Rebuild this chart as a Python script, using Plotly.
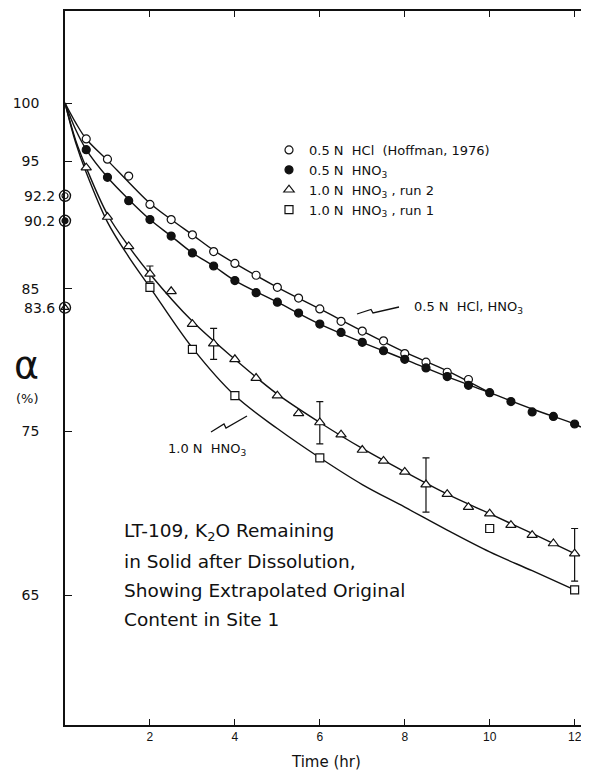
import math
import plotly.graph_objects as go

# ---------------- data ----------------
t_hcl = [0.5, 1.0, 1.5, 2.0, 2.5, 3.0, 3.5, 4.0, 4.5, 5.0, 5.5, 6.0, 6.5, 7.0, 7.5, 8.0, 8.5, 9.0, 9.5]
hcl_05 = [96.9, 95.2, 93.8, 91.5, 90.3, 89.1, 87.8, 86.9, 86.0, 85.1, 84.3, 83.5, 82.6, 81.9, 81.2, 80.3, 79.7, 79.0, 78.5]

t_hno3 = [0.5, 1.0, 1.5, 2.0, 2.5, 3.0, 3.5, 4.0, 4.5, 5.0, 5.5, 6.0, 6.5, 7.0, 7.5, 8.0,
          8.5, 9.0, 9.5, 10.0, 10.5, 11.0, 11.5, 12.0]
hno3_05 = [96.0, 93.7, 91.8, 90.3, 89.0, 87.7, 86.7, 85.6, 84.7, 84.0, 83.2, 82.4, 81.8, 81.1, 80.5, 79.9,
           79.3, 78.7, 78.1, 77.6, 77.0, 76.3, 76.0, 75.5]

t_run2 = [0.5, 1.0, 1.5, 2.0, 2.5, 3.0, 3.5, 4.0, 4.5, 5.0, 5.5, 6.0, 6.5, 7.0, 7.5, 8.0,
          8.5, 9.0, 9.5, 10.0, 10.5, 11.0, 11.5, 12.0]
hno3_10_run2 = [94.5, 90.5, 88.2, 86.1, 84.8, 82.4, 81.0, 79.9, 78.6, 77.4, 76.2, 75.6, 74.8, 73.8, 73.1, 72.4,
                71.6, 71.0, 70.2, 69.8, 69.1, 68.5, 68.0, 67.4]

t_run1 = [2.0, 3.0, 4.0, 6.0, 10.0, 12.0]
hno3_10_run1 = [85.1, 80.6, 77.4, 73.3, 68.9, 65.3]

err_t = [2.0, 3.5, 6.0, 8.5, 12.0]
err_mid = [86.1, 81.0, 75.6, 71.6, 67.4]
err_plus = [0.6, 1.1, 1.4, 1.7, 1.5]
err_minus = [0.6, 1.1, 1.4, 1.7, 1.6]

extrap_vals = [92.2, 90.2, 83.6]   # extrapolated original content (t = 0)

# fitted curves
fit_hcl_t = [0, 0.25, 0.5, 1, 1.5, 2, 2.5, 3, 3.5, 4, 5, 6, 7, 8, 9, 10]
fit_hcl = [100, 98.3, 96.9, 95.1, 93.3, 91.6, 90.3, 89.1, 87.9, 86.9, 85.1, 83.5, 81.9, 80.4, 79.1, 77.6]
fit_05_t = [0, 0.25, 0.5, 1, 1.5, 2, 2.5, 3, 3.5, 4, 5, 6, 7, 8, 9, 10, 11, 12, 12.15]
fit_05 = [100, 97.7, 96.0, 93.7, 91.9, 90.3, 89.0, 87.7, 86.7, 85.6, 84.0, 82.4, 81.1, 79.9, 78.7, 77.6, 76.5, 75.5, 75.3]
fit_run2_t = [0, 0.25, 0.5, 1, 1.5, 2, 3, 4, 5, 6, 7, 8, 9, 10, 11, 12]
fit_run2 = [100, 96.8, 94.5, 90.7, 88.2, 86.1, 82.6, 79.9, 77.5, 75.6, 73.9, 72.4, 71.0, 69.8, 68.6, 67.4]
fit_run1_t = [0, 0.25, 0.5, 1, 1.5, 2, 3, 4, 5, 6, 7, 8, 9, 10, 11, 12]
fit_run1 = [100, 96.6, 94.1, 90.1, 87.4, 85.1, 80.7, 77.4, 75.2, 73.3, 71.6, 70.2, 68.8, 67.5, 66.4, 65.3]

x_ticks = [2, 4, 6, 8, 10, 12]
y_ticks = [100, 95, 85, 75, 65]

legend_names = [
    "0.5\u00a0N\u00a0\u00a0HCl\u00a0\u00a0(Hoffman,\u00a01976)",
    "0.5\u00a0N\u00a0\u00a0HNO<sub>3</sub>",
    "1.0\u00a0N\u00a0\u00a0HNO<sub>3</sub>\u00a0,\u00a0run\u00a02",
    "1.0\u00a0N\u00a0\u00a0HNO<sub>3</sub>\u00a0,\u00a0run\u00a01",
]

# ---------------- layout geometry ----------------
PAGE_OFF = 8                 # default body margin of the html page
W, H = 589 - 2 * PAGE_OFF, 779 - 2 * PAGE_OFF   # no page overflow -> no scrollbars
PL, PR, PT, PB = 65, 589 - PAGE_OFF, 11, 725      # plot area in page pixels
ML, MT = PL - PAGE_OFF, PT - PAGE_OFF
MR = (PAGE_OFF + W) - PR
MB = (PAGE_OFF + H) - PB
PW, PH = PR - PL, PB - PT
X_RANGE = [0, 12.15]
Y_RANGE = [1.7635, 2.03498]


def P(px, py):
    """page pixel -> paper fraction"""
    return (px - PL) / PW, (PB - py) / PH


FONT = "DejaVu Sans, Liberation Sans, Arial"
BLACK = "#111111"

fig = go.Figure()

line_style = dict(color=BLACK, width=1.4, shape="spline")
for tx, vy in [(fit_hcl_t, fit_hcl), (fit_05_t, fit_05), (fit_run2_t, fit_run2), (fit_run1_t, fit_run1)]:
    fig.add_trace(go.Scatter(x=tx, y=vy, mode="lines", line=line_style,
                             showlegend=False, hoverinfo="skip", cliponaxis=False))

# error bars
fig.add_trace(go.Scatter(
    x=err_t, y=err_mid, mode="markers", marker=dict(size=1, color="rgba(0,0,0,0)"),
    error_y=dict(type="data", array=err_plus, arrayminus=err_minus, color=BLACK,
                 thickness=1.2, width=3.5),
    showlegend=False, hoverinfo="skip", cliponaxis=False))

mk_line = dict(color=BLACK, width=1.2)
series = [
    (t_hcl, hcl_05, dict(symbol="circle", size=8, color="white", line=mk_line)),
    (t_hno3, hno3_05, dict(symbol="circle", size=8, color=BLACK, line=mk_line)),
    (t_run2, hno3_10_run2, dict(symbol="triangle-up", size=9, color="white", line=mk_line)),
    (t_run1, hno3_10_run1, dict(symbol="square", size=8, color="white", line=mk_line)),
]
for i, ((tx, vy, mk), name) in enumerate(zip(series, legend_names)):
    fig.add_trace(go.Scatter(x=tx, y=vy, mode="markers", marker=mk, name=name,
                             legendgroup=f"g{i}", cliponaxis=False))

# extrapolated values on the y axis
ext_x = [0] * len(extrap_vals)
fig.add_trace(go.Scatter(x=ext_x, y=extrap_vals, mode="markers",
                         marker=dict(symbol="circle", size=11, color="white", line=dict(color=BLACK, width=1.4)),
                         showlegend=False, hoverinfo="skip", cliponaxis=False))
fig.add_trace(go.Scatter(x=ext_x[:2], y=extrap_vals[:2], mode="markers",
                         marker=dict(symbol="circle", size=6,
                                     color=["white", BLACK], line=dict(color=BLACK, width=1.2)),
                         showlegend=False, hoverinfo="skip", cliponaxis=False))
fig.add_trace(go.Scatter(x=ext_x[2:], y=extrap_vals[2:], mode="markers",
                         marker=dict(symbol="triangle-up-open", size=7, color=BLACK, line=dict(color=BLACK, width=1.2)),
                         showlegend=False, hoverinfo="skip", cliponaxis=False))

annotations = []
for v in extrap_vals:
    annotations.append(dict(x=P(57, 0)[0], xref="paper", y=math.log10(v), yref="y",
                            text=f"{v}", showarrow=False, xanchor="right", yanchor="middle",
                            font=dict(family=FONT, size=14, color=BLACK)))


def text_at(px, py, text, size, anchor="left", family=FONT):
    x, y = P(px, py)
    annotations.append(dict(x=x, y=y, xref="paper", yref="paper", text=text, showarrow=False,
                            xanchor=anchor, yanchor="middle",
                            font=dict(family=family, size=size, color=BLACK)))


text_at(26, 365, "α", 38, "center")
text_at(27, 398, "(%)", 13, "center")
text_at(326, 762, "Time\u00a0(hr)", 15, "center")
text_at(412, 307, "0.5\u00a0N\u00a0\u00a0HCl,\u00a0HNO<sub>3</sub>", 13)
text_at(166, 449, "1.0\u00a0N\u00a0\u00a0HNO<sub>3</sub>", 13)
block = [
    "LT-109,\u00a0K<sub>2</sub>O\u00a0Remaining",
    "in\u00a0Solid\u00a0after\u00a0Dissolution,",
    "Showing\u00a0Extrapolated\u00a0Original",
    "Content\u00a0in\u00a0Site\u00a01",
]
for k, line in enumerate(block):
    text_at(122, 532 + 29.3 * k, line, 18.5)


def path(points):
    s = ""
    for j, (a, b) in enumerate(points):
        x, y = P(a, b)
        s += ("M" if j == 0 else "L") + f"{x:.5f},{y:.5f} "
    return s


shapes = [
    dict(type="path", xref="paper", yref="paper",
         path=path([(357, 314), (371, 309.5), (373, 313), (399, 307)]),
         line=dict(color=BLACK, width=1.3)),
    dict(type="path", xref="paper", yref="paper",
         path=path([(211, 432), (224, 424), (226, 428), (247, 416)]),
         line=dict(color=BLACK, width=1.3)),
]

fig.update_layout(
    width=W, height=H,
    margin=dict(l=ML, r=MR, t=MT, b=MB),
    paper_bgcolor="white", plot_bgcolor="white",
    font=dict(family=FONT, color=BLACK),
    xaxis=dict(range=X_RANGE, tickvals=x_ticks, ticktext=[str(v) for v in x_ticks],
               ticks="inside", ticklen=6, tickwidth=1.2, tickcolor=BLACK,
               showline=True, linecolor=BLACK, linewidth=1.6, mirror="ticks",
               showgrid=False, zeroline=False, ticklabeloverflow="allow",
               tickfont=dict(family="Liberation Sans, Arial", size=12, color=BLACK)),
    yaxis=dict(type="log", range=Y_RANGE, tickvals=y_ticks, ticktext=[str(v) for v in y_ticks],
               ticks="inside", ticklen=7, tickwidth=1.2, tickcolor=BLACK,
               showline=True, linecolor=BLACK, linewidth=1.6,
               showgrid=False, zeroline=False, ticklabelstandoff=21,
               tickfont=dict(family=FONT, size=14, color=BLACK)),
    showlegend=True,
    legend=dict(x=P(269, 0)[0], y=P(0, 135)[1], xanchor="left", yanchor="top",
                bgcolor="rgba(0,0,0,0)", borderwidth=0, tracegroupgap=0,
                font=dict(family=FONT, size=13, color=BLACK)),
    annotations=annotations,
    shapes=shapes,
)

fig.write_html("out.html")
